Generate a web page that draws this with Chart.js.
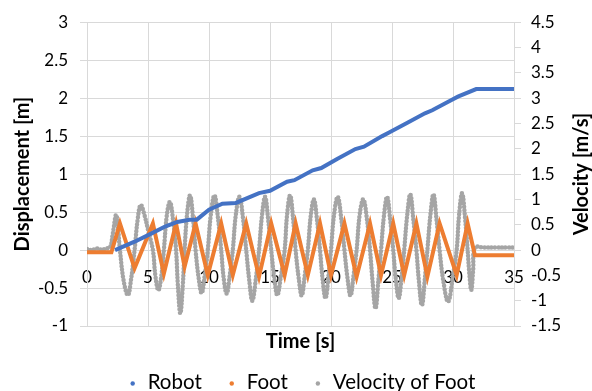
<!DOCTYPE html>
<html>
<head>
<meta charset="utf-8">
<script src="https://cdn.jsdelivr.net/npm/chart.js@4.4.1/dist/chart.umd.min.js"></script>
<style>
  body { margin: 0; background: #fff; }
  canvas { display: block; }
</style>
</head>
<body>
<canvas id="chart" width="592" height="391"></canvas>
<script>
// Robot displacement [m]
const robotTime = [2.3, 3.9, 5.3, 6.4, 7.4, 8.4, 9.0, 10.0, 11.1, 12.2, 14.1, 15.0, 16.4, 17.0, 18.5, 19.2, 20.5, 22.0, 22.7, 24.2, 24.8, 26.3, 27.7, 28.3, 29.8, 30.4, 31.9, 35];
const robotDisp = [0, 0.11, 0.22, 0.31, 0.37, 0.40, 0.40, 0.53, 0.61, 0.62, 0.75, 0.78, 0.90, 0.92, 1.05, 1.08, 1.20, 1.33, 1.36, 1.50, 1.55, 1.68, 1.80, 1.84, 1.97, 2.02, 2.12, 2.12];

// Foot displacement [m]
const footTime = [0, 2.0, 2.7, 3.9, 5.4, 6.3, 7.3, 8.0, 8.9, 9.9, 11.0, 11.95, 13.05, 14.1, 15.1, 16.2, 17.1, 18.1, 19.1, 20.0, 21.1, 22.1, 23.2, 24.1, 25.1, 26.0, 27.0, 27.9, 28.9, 30.3, 31.2, 31.8, 35];
const footDisp = [-0.03, -0.03, 0.35, -0.24, 0.35, -0.31, 0.35, -0.22, 0.35, -0.33, 0.35, -0.33, 0.35, -0.35, 0.35, -0.33, 0.35, -0.33, 0.35, -0.33, 0.35, -0.35, 0.35, -0.33, 0.35, -0.33, 0.35, -0.35, 0.35, -0.33, 0.35, -0.07, -0.07];

// Velocity of foot [m/s]
const velTime = [
  0, 0.4, 0.8, 1.2, 1.6, 1.9,
  2.1, 2.4, 2.7, 3.0, 3.35, 3.6, 3.9,
  4.15, 4.4, 4.7, 5.0, 5.4, 5.6, 5.85, 6.1, 6.3,
  6.55, 6.8, 7.05, 7.3, 7.45, 7.65, 7.85, 8.0,
  8.2, 8.45, 8.7, 8.9, 9.15, 9.4, 9.65, 9.9,
  10.15, 10.45, 10.75, 11.0, 11.2, 11.45, 11.7, 11.95,
  12.2, 12.5, 12.8, 13.05, 13.3, 13.55, 13.85, 14.1,
  14.35, 14.6, 14.85, 15.1, 15.35, 15.6, 15.9, 16.2,
  16.4, 16.65, 16.9, 17.1, 17.35, 17.6, 17.85, 18.1,
  18.35, 18.6, 18.85, 19.1, 19.3, 19.55, 19.8, 20.0,
  20.25, 20.55, 20.85, 21.1, 21.35, 21.6, 21.85, 22.1,
  22.35, 22.65, 22.95, 23.2, 23.4, 23.65, 23.9, 24.1,
  24.35, 24.6, 24.85, 25.1, 25.3, 25.55, 25.8, 26.0,
  26.25, 26.5, 26.75, 27.0, 27.2, 27.45, 27.7, 27.9,
  28.15, 28.4, 28.65, 28.9, 29.2, 29.6, 30.0, 30.3,
  30.5, 30.75, 31.0, 31.2, 31.35, 31.5, 31.65, 31.8,
  32.5, 33.5, 34.5, 35
];
const velValue = [
  0.02, 0.0, 0.03, 0.01, 0.03, 0.06,
  0.3, 0.69, 0.0, -0.6, -0.89, -0.6, 0.0,
  0.6, 0.89, 0.7, 0.4, 0.0, -0.5, -0.79, -0.5, 0.0,
  0.7, 0.95, 0.6, 0.0, -0.7, -1.25, -0.7, 0.0,
  0.7, 1.08, 0.6, 0.0, -0.55, -0.85, -0.5, 0.0,
  0.7, 1.08, 0.6, 0.0, -0.55, -0.86, -0.5, 0.0,
  0.7, 1.05, 0.6, 0.0, -0.6, -1.0, -0.55, 0.0,
  0.7, 1.05, 0.6, 0.0, -0.55, -0.89, -0.5, 0.0,
  0.7, 1.08, 0.6, 0.0, -0.55, -0.9, -0.5, 0.0,
  0.7, 1.0, 0.6, 0.0, -0.55, -0.95, -0.5, 0.0,
  0.7, 1.05, 0.6, 0.0, -0.55, -0.9, -0.5, 0.0,
  0.7, 1.0, 0.6, 0.0, -0.6, -1.15, -0.55, 0.0,
  0.7, 1.05, 0.6, 0.0, -0.55, -0.95, -0.5, 0.0,
  0.7, 1.1, 0.6, 0.0, -0.6, -1.09, -0.55, 0.0,
  0.7, 1.1, 0.6, 0.0, -0.6, -1.02, -0.5, 0.0,
  0.7, 1.12, 0.6, 0.0, -0.5, -0.79, -0.4, 0.05,
  0.05, 0.05, 0.05, 0.05
];

const xTicks = [0, 5, 10, 15, 20, 25, 30, 35];

const toPoints = (xs, ys) => xs.map((x, i) => ({ x: x, y: ys[i] }));

const gridColor = "#d9d9d9";
const font = "Lato";

// right axis title (bottom-to-top), x axis title and legend
const extraText = {
  id: "extraText",
  afterDraw(chart) {
    const { ctx, chartArea } = chart;
    ctx.save();
    ctx.fillStyle = "#000";
    ctx.font = "bold 20px " + font;
    ctx.textAlign = "center";
    ctx.textBaseline = "alphabetic";
    ctx.fillText("Time [s]", (chartArea.left + chartArea.right) / 2, 348);

    ctx.textBaseline = "middle";
    ctx.translate(582, (chartArea.top + chartArea.bottom) / 2);
    ctx.rotate(-Math.PI / 2);
    ctx.fillText("Velocity [m/s]", 0, 0);
    ctx.restore();

    // legend
    ctx.save();
    ctx.font = "20.5px " + font;
    ctx.textBaseline = "alphabetic";
    const items = chart.data.datasets.map(ds => ({ label: ds.label, color: ds.borderColor }));
    const dotGap = 15, itemGap = 30;
    let total = 0;
    items.forEach((it, i) => {
      it.w = ctx.measureText(it.label).width;
      total += dotGap + it.w + (i < items.length - 1 ? itemGap : 0);
    });
    let x = 304 - total / 2;
    items.forEach(it => {
      ctx.fillStyle = it.color;
      ctx.beginPath();
      ctx.arc(x, 383.5, 2.2, 0, Math.PI * 2);
      ctx.fill();
      ctx.fillStyle = "#000";
      ctx.fillText(it.label, x + dotGap, 389);
      x += dotGap + it.w + itemGap;
    });
    ctx.restore();
  }
};

const ctx = document.getElementById("chart").getContext("2d");
new Chart(ctx, {
  type: "scatter",
  data: {
    datasets: [
      {
        label: "Robot",
        data: toPoints(robotTime, robotDisp),
        showLine: true,
        borderColor: "#4472C4",
        backgroundColor: "#4472C4",
        borderWidth: 4,
        pointRadius: 0,
        yAxisID: "y",
      },
      {
        label: "Foot",
        data: toPoints(footTime, footDisp),
        showLine: true,
        borderColor: "#ED7D31",
        backgroundColor: "#ED7D31",
        borderWidth: 4,
        pointRadius: 0,
        yAxisID: "y",
      },
      {
        label: "Velocity of Foot",
        data: toPoints(velTime, velValue),
        showLine: true,
        borderColor: "#A5A5A5",
        backgroundColor: "#A5A5A5",
        borderWidth: 4.5,
        borderDash: [0, 3.5],
        borderCapStyle: "round",
        pointRadius: 0,
        tension: 0.4,
        yAxisID: "y1",
      },
    ],
  },
  options: {
    responsive: false,
    animation: false,
    layout: { padding: { top: 22, bottom: 65, left: 0, right: 0 } },
    plugins: {
      legend: { display: false },
      tooltip: { enabled: false },
    },
    scales: {
      x: {
        type: "linear",
        position: { y: 0 },
        min: 0,
        max: 35,
        afterBuildTicks: (scale) => { scale.ticks = xTicks.map(v => ({ value: v })); },
        grid: { color: gridColor, drawTicks: false },
        border: { color: gridColor },
        ticks: { color: "#000", font: { family: font, size: 17 }, padding: 17, maxRotation: 0 },
      },
      y: {
        position: "left",
        min: -1,
        max: 3,
        ticks: { stepSize: 0.5, color: "#000", font: { family: font, size: 17 }, padding: 12, callback: (v) => String(v) },
        grid: { color: gridColor, tickLength: 7 },
        border: { color: gridColor },
        title: {
          display: true,
          text: "Displacement [m]",
          color: "#000",
          font: { family: font, size: 20, weight: "bold" },
          padding: { top: 11, bottom: 0 },
        },
        afterFit: (scale) => { scale.width = 87; },
      },
      y1: {
        position: "right",
        min: -1.5,
        max: 4.5,
        ticks: { stepSize: 0.5, color: "#000", font: { family: font, size: 17 }, padding: 10, callback: (v) => String(v) },
        grid: { drawOnChartArea: false, color: gridColor, tickLength: 7 },
        border: { color: gridColor },
        afterFit: (scale) => { scale.width = 78; },
      },
    },
  },
  plugins: [extraText],
});
</script>
</body>
</html>
